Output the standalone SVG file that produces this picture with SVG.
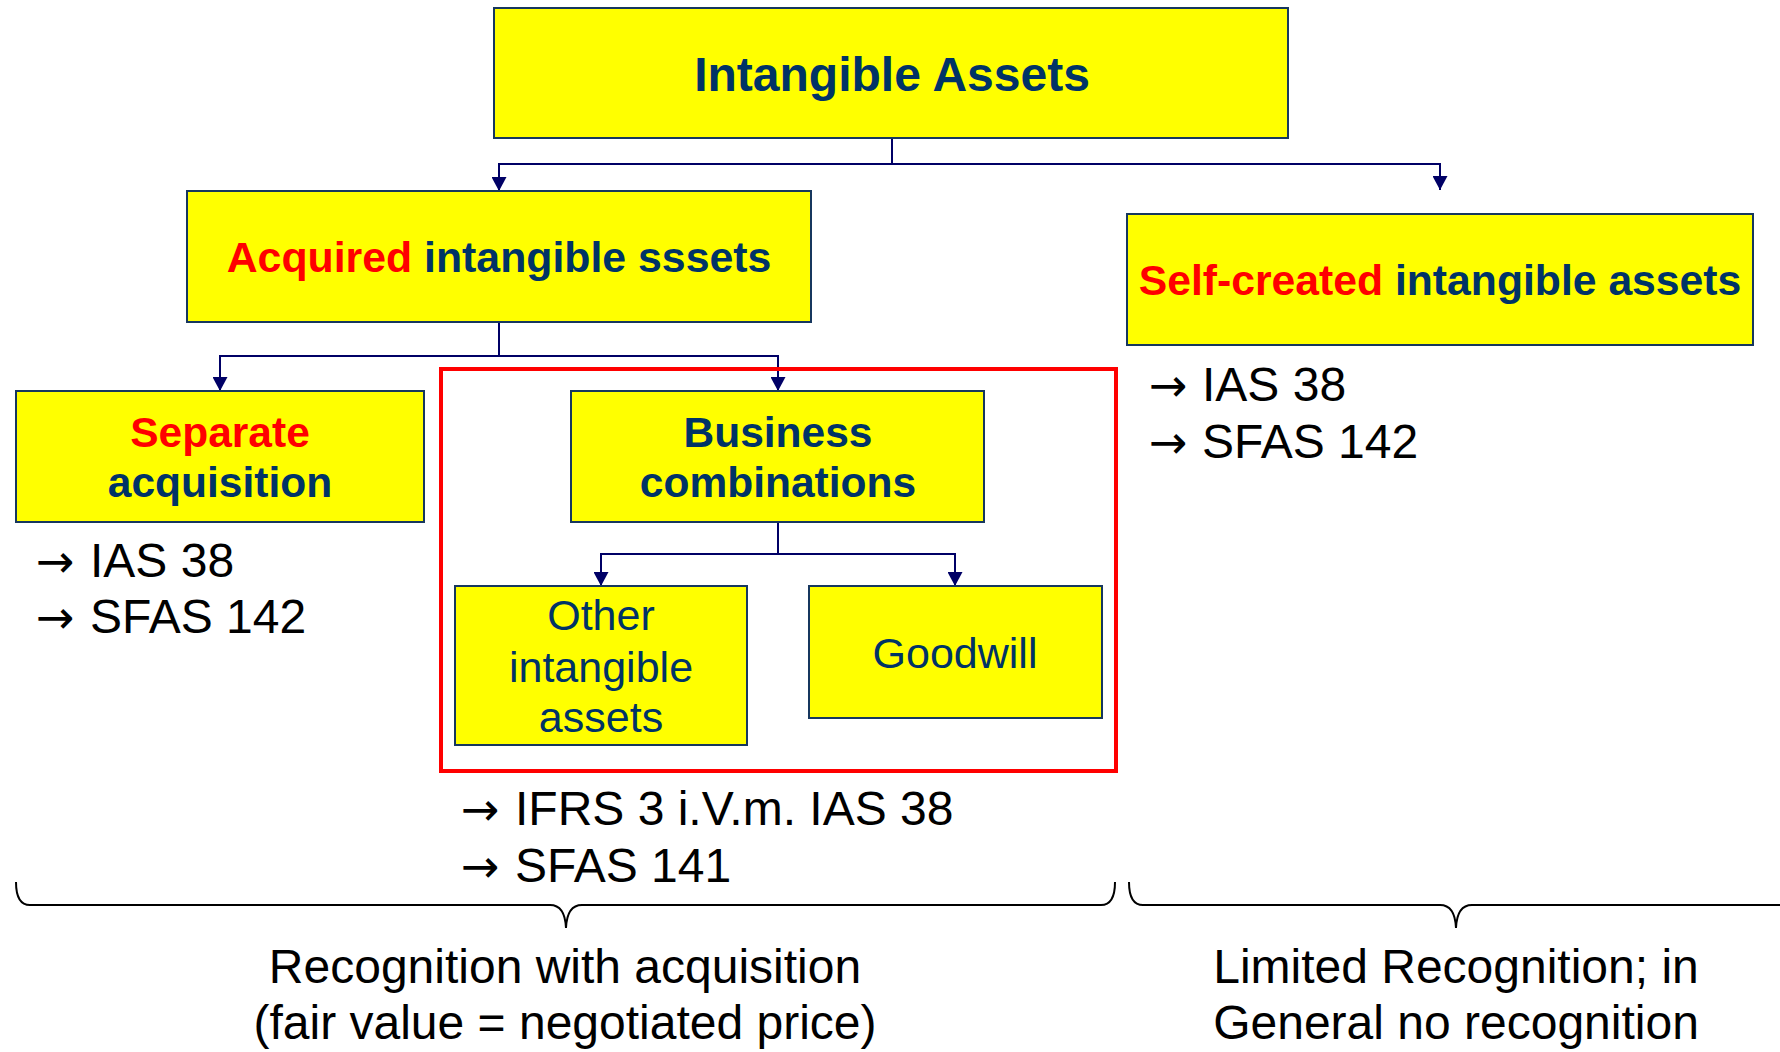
<svg xmlns="http://www.w3.org/2000/svg" width="1780" height="1052" viewBox="0 0 1780 1052">
  <style>
    .box { fill: #FFFF00; stroke: #17375E; stroke-width: 2; }
    .hd { font-family: "Liberation Sans", Arial, sans-serif; font-weight: bold; fill: #003366; text-anchor: middle; }
    .nd { font-family: "Liberation Sans", Arial, sans-serif; font-size: 43px; fill: #003366; text-anchor: middle; }
    .red { fill: #FF0000; }
    .note { font-family: "Liberation Sans", Arial, sans-serif; font-size: 48px; fill: #000000; }
    .arr { font-family: "DejaVu Sans", sans-serif; font-size: 46px; }
    .lbl { font-family: "Liberation Sans", Arial, sans-serif; font-size: 48px; fill: #000000; text-anchor: middle; }
    .conn { fill: none; stroke: #000066; stroke-width: 2; marker-end: url(#ah); }
    .brace { fill: none; stroke: #000000; stroke-width: 2; }
  </style>
  <defs>
    <marker id="ah" markerUnits="userSpaceOnUse" markerWidth="14" markerHeight="15" viewBox="0 0 14 15" refX="14" refY="7.5" orient="auto">
      <path d="M0,0 L14,7.5 L0,15 Z" fill="#000066"/>
    </marker>
  </defs>
  <rect width="1780" height="1052" fill="#FFFFFF"/>

  <!-- connectors -->
  <g id="connectors">
    <path class="conn" d="M892,138 V164 H499 V191"/>
    <path class="conn" d="M892,164 H1440 V190"/>
    <path class="conn" d="M499,322 V356 H220 V391"/>
    <path class="conn" d="M499,356 H778 V391"/>
    <path class="conn" d="M778,522 V554 H601 V586"/>
    <path class="conn" d="M778,554 H955 V586"/>
  </g>

  <!-- business combination frame -->
  <rect id="bc-frame" x="441" y="369" width="675" height="402" fill="none" stroke="#FF0000" stroke-width="4"/>

  <g id="intangible-assets">
    <rect class="box" x="494" y="8" width="794" height="130"/>
    <text class="hd" x="892" y="91" font-size="48">Intangible Assets</text>
  </g>

  <g id="acquired">
    <rect class="box" x="187" y="191" width="624" height="131"/>
    <text class="hd" x="499" y="272" font-size="42.8"><tspan class="red">Acquired</tspan> intangible sssets</text>
  </g>

  <g id="self-created">
    <rect class="box" x="1127" y="214" width="626" height="131"/>
    <text class="hd" x="1440" y="295" font-size="42.7"><tspan class="red">Self-created</tspan> intangible assets</text>
  </g>

  <g id="separate">
    <rect class="box" x="16" y="391" width="408" height="131"/>
    <text class="hd" x="220" y="447" font-size="42.5"><tspan class="red">Separate</tspan></text>
    <text class="hd" x="220" y="497" font-size="42.5">acquisition</text>
  </g>

  <g id="business">
    <rect class="box" x="571" y="391" width="413" height="131"/>
    <text class="hd" x="778" y="447" font-size="42.5">Business</text>
    <text class="hd" x="778" y="497" font-size="42.5">combinations</text>
  </g>

  <g id="other">
    <rect class="box" x="455" y="586" width="292" height="159"/>
    <text class="nd" x="601" y="630">Other</text>
    <text class="nd" x="601" y="682">intangible</text>
    <text class="nd" x="601" y="732">assets</text>
  </g>

  <g id="goodwill">
    <rect class="box" x="809" y="586" width="293" height="132"/>
    <text class="nd" x="955" y="668">Goodwill</text>
  </g>

  <!-- standards references -->
  <g id="ref-separate">
    <text class="note" x="36" y="577"><tspan class="arr">→</tspan><tspan x="90">IAS 38</tspan></text>
    <text class="note" x="36" y="633"><tspan class="arr">→</tspan><tspan x="90">SFAS 142</tspan></text>
  </g>
  <g id="ref-self">
    <text class="note" x="1149" y="401"><tspan class="arr">→</tspan><tspan x="1202">IAS 38</tspan></text>
    <text class="note" x="1149" y="458"><tspan class="arr">→</tspan><tspan x="1202">SFAS 142</tspan></text>
  </g>
  <g id="ref-business">
    <text class="note" x="461" y="825"><tspan class="arr">→</tspan><tspan x="515">IFRS 3 i.V.m. IAS 38</tspan></text>
    <text class="note" x="461" y="882"><tspan class="arr">→</tspan><tspan x="515">SFAS 141</tspan></text>
  </g>

  <!-- braces -->
  <g id="braces">
    <path class="brace" d="M16,882 Q16,905 30,905 L550,905 Q565,905 566,928 Q567,905 582,905 L1101,905 Q1115,905 1115,882"/>
    <path class="brace" d="M1129,882 Q1129,905 1143,905 L1440,905 Q1455,905 1456,928 Q1457,905 1472,905 L1782,905"/>
  </g>

  <g id="label-acquired">
    <text class="lbl" x="565" y="983">Recognition with acquisition</text>
    <text class="lbl" x="565" y="1039">(fair value = negotiated price)</text>
  </g>
  <g id="label-self">
    <text class="lbl" x="1456" y="983">Limited Recognition; in</text>
    <text class="lbl" x="1456" y="1039">General no recognition</text>
  </g>
</svg>
